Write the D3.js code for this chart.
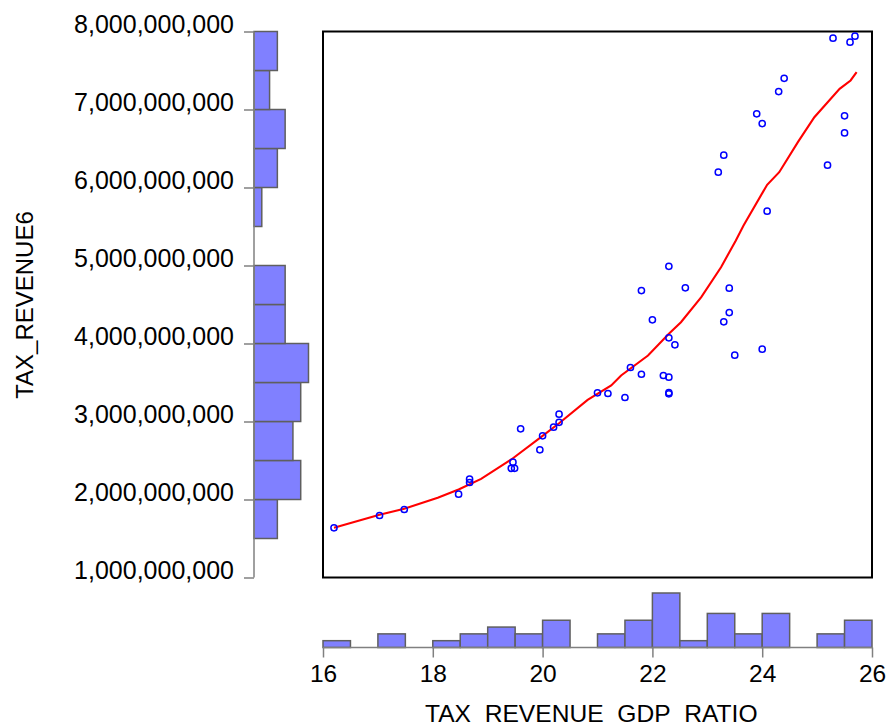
<!DOCTYPE html>
<html>
<head>
<meta charset="utf-8">
<script src="https://cdn.jsdelivr.net/npm/d3@7"></script>
<style>
  html, body { margin: 0; padding: 0; background: #fff; }
  svg { display: block; font-family: "Liberation Sans", Arial, sans-serif; }
</style>
</head>
<body>
<script>
// ---- data ----
const taxRatio = [16.2, 17.03, 17.48, 18.47, 18.67, 18.67, 19.43, 19.49, 19.46, 19.6,
  19.95, 20.0, 20.2, 20.3, 20.3, 21.0, 21.19, 21.5, 21.6, 21.8,
  21.8, 22.0, 22.2, 22.3, 22.3, 22.3, 22.3, 22.3, 22.41, 22.6,
  23.4, 23.4, 23.3, 23.5, 24.0, 25.29, 25.6, 25.69, 24.4, 24.3,
  23.9, 24.0, 25.5, 25.5, 23.3, 23.2, 25.19, 24.09];
const taxRevenue = [1.637e9, 1.795e9, 1.872e9, 2.068e9, 2.26e9, 2.218e9, 2.40e9, 2.40e9, 2.478e9, 2.906e9,
  2.637e9, 2.816e9, 2.927e9, 2.99e9, 3.094e9, 3.368e9, 3.359e9, 3.308e9, 3.692e9, 3.606e9,
  4.679e9, 4.304e9, 3.59e9, 3.568e9, 3.355e9, 3.37e9, 4.99e9, 4.073e9, 3.983e9, 4.714e9,
  4.709e9, 4.397e9, 4.278e9, 3.85e9, 3.927e9, 7.914e9, 7.863e9, 7.94e9, 7.40e9, 7.23e9,
  6.944e9, 6.82e9, 6.919e9, 6.70e9, 6.414e9, 6.197e9, 6.286e9, 5.696e9];
// smoothed fit line (red)
const fitX = [16.2, 17.03, 17.48, 18.09, 18.47, 18.88, 19.43, 19.97, 20.30, 20.82,
  21.25, 21.43, 21.92, 22.30, 22.52, 22.89, 23.25, 23.52, 23.66, 24.09,
  24.31, 24.65, 24.95, 25.41, 25.61, 25.72];
const fitY = [1.637e9, 1.804e9, 1.881e9, 2.022e9, 2.128e9, 2.265e9, 2.513e9, 2.799e9, 2.978e9, 3.278e9,
  3.462e9, 3.590e9, 3.846e9, 4.124e9, 4.273e9, 4.594e9, 4.978e9, 5.321e9, 5.513e9, 6.035e9,
  6.196e9, 6.581e9, 6.901e9, 7.265e9, 7.372e9, 7.478e9];
const xTicks = [16, 18, 20, 22, 24, 26];
const yTicks = [1e9, 2e9, 3e9, 4e9, 5e9, 6e9, 7e9, 8e9];
const xBinEdges = d3.range(16, 26.001, 0.5);
const yBinEdges = d3.range(1.5e9, 8.0e9 + 1, 0.5e9);
const xTitle = "TAX_REVENUE_GDP_RATIO";
const yTitle = "TAX_REVENUE6";

// ---- layout ----
const W = 887, H = 724;
const svg = d3.select("body").append("svg").attr("width", W).attr("height", H);

const x = d3.scaleLinear().domain([16, 26]).range([323, 872]);
const y = d3.scaleLinear().domain([1e9, 8e9]).range([577.5, 31.5]);

const barFill = "#8080ff", barStroke = "#5f5f5f", axisCol = "#808080";

// ---- left histogram (y marginal) ----
const yBins = d3.bin().domain([1.5e9, 8e9]).thresholds(yBinEdges.slice(1, -1))(taxRevenue);
const yAxisX = 254;
const yCount = d3.scaleLinear().domain([0, d3.max(yBins, b => b.length)]).range([0, 54.5]);
svg.append("g").selectAll("rect").data(yBins.filter(b => b.length > 0)).join("rect")
  .attr("x", yAxisX)
  .attr("y", b => y(b.x1))
  .attr("width", b => yCount(b.length))
  .attr("height", b => y(b.x0) - y(b.x1))
  .attr("fill", barFill).attr("stroke", barStroke).attr("stroke-width", 1.5);

const yAxis = d3.axisLeft(y).tickValues(yTicks).tickSize(10).tickFormat(d3.format(","));
const gy = svg.append("g").attr("transform", `translate(${yAxisX},0)`).call(yAxis);
gy.select(".domain").attr("stroke", axisCol).attr("stroke-width", 1.5).attr("d", `M-0,${y(8e9)}V${y(1e9)}`);
gy.selectAll(".tick line").attr("stroke", axisCol).attr("stroke-width", 1.5);
gy.selectAll(".tick text").attr("font-size", 25).attr("font-family", "Liberation Sans, Arial, sans-serif")
  .attr("fill", "#000").attr("x", -20).attr("dy", "0.05em");

// ---- bottom histogram (x marginal) ----
const xBins = d3.bin().domain([16, 26]).thresholds(xBinEdges.slice(1, -1))(taxRatio);
const xAxisY = 647.5;
const xCount = d3.scaleLinear().domain([0, d3.max(xBins, b => b.length)]).range([0, 54.5]);
svg.append("g").selectAll("rect").data(xBins.filter(b => b.length > 0)).join("rect")
  .attr("x", b => x(b.x0))
  .attr("y", b => xAxisY - xCount(b.length))
  .attr("width", b => x(b.x1) - x(b.x0))
  .attr("height", b => xCount(b.length))
  .attr("fill", barFill).attr("stroke", barStroke).attr("stroke-width", 1.5);

const xAxis = d3.axisBottom(x).tickValues(xTicks).tickSize(10).tickFormat(d3.format("d"));
const gx = svg.append("g").attr("transform", `translate(0,${xAxisY})`).call(xAxis);
gx.select(".domain").attr("stroke", axisCol).attr("stroke-width", 1.5).attr("d", `M${x(16)},0H${x(26)}`);
gx.selectAll(".tick line").attr("stroke", axisCol).attr("stroke-width", 1.5);
gx.selectAll(".tick text").attr("font-size", 24.5).attr("font-family", "Liberation Sans, Arial, sans-serif")
  .attr("fill", "#000").attr("y", 34).attr("dy", "0");

// ---- scatter frame ----
svg.append("rect").attr("x", x(16)).attr("y", y(8e9)).attr("width", x(26) - x(16)).attr("height", y(1e9) - y(8e9))
  .attr("fill", "none").attr("stroke", "#000").attr("stroke-width", 2);

// fit line
const line = d3.line().x((d, i) => x(fitX[i])).y((d, i) => y(fitY[i]));
svg.append("path").datum(fitX).attr("d", line).attr("fill", "none").attr("stroke", "#ff0000").attr("stroke-width", 2.1);

// points
svg.append("g").selectAll("circle").data(taxRatio).join("circle")
  .attr("cx", (d) => x(d))
  .attr("cy", (d, i) => y(taxRevenue[i]))
  .attr("r", 3.1)
  .attr("fill", "none").attr("stroke", "#0000ff").attr("stroke-width", 1.5);

// ---- titles ----
svg.append("text").attr("x", 425).attr("y", 722).attr("font-size", 24.6).attr("fill", "#000").text(xTitle);
svg.append("text").attr("transform", "translate(33,305) rotate(-90)").attr("text-anchor", "middle")
  .attr("font-size", 24).attr("fill", "#000").text(yTitle);
</script>
</body>
</html>
